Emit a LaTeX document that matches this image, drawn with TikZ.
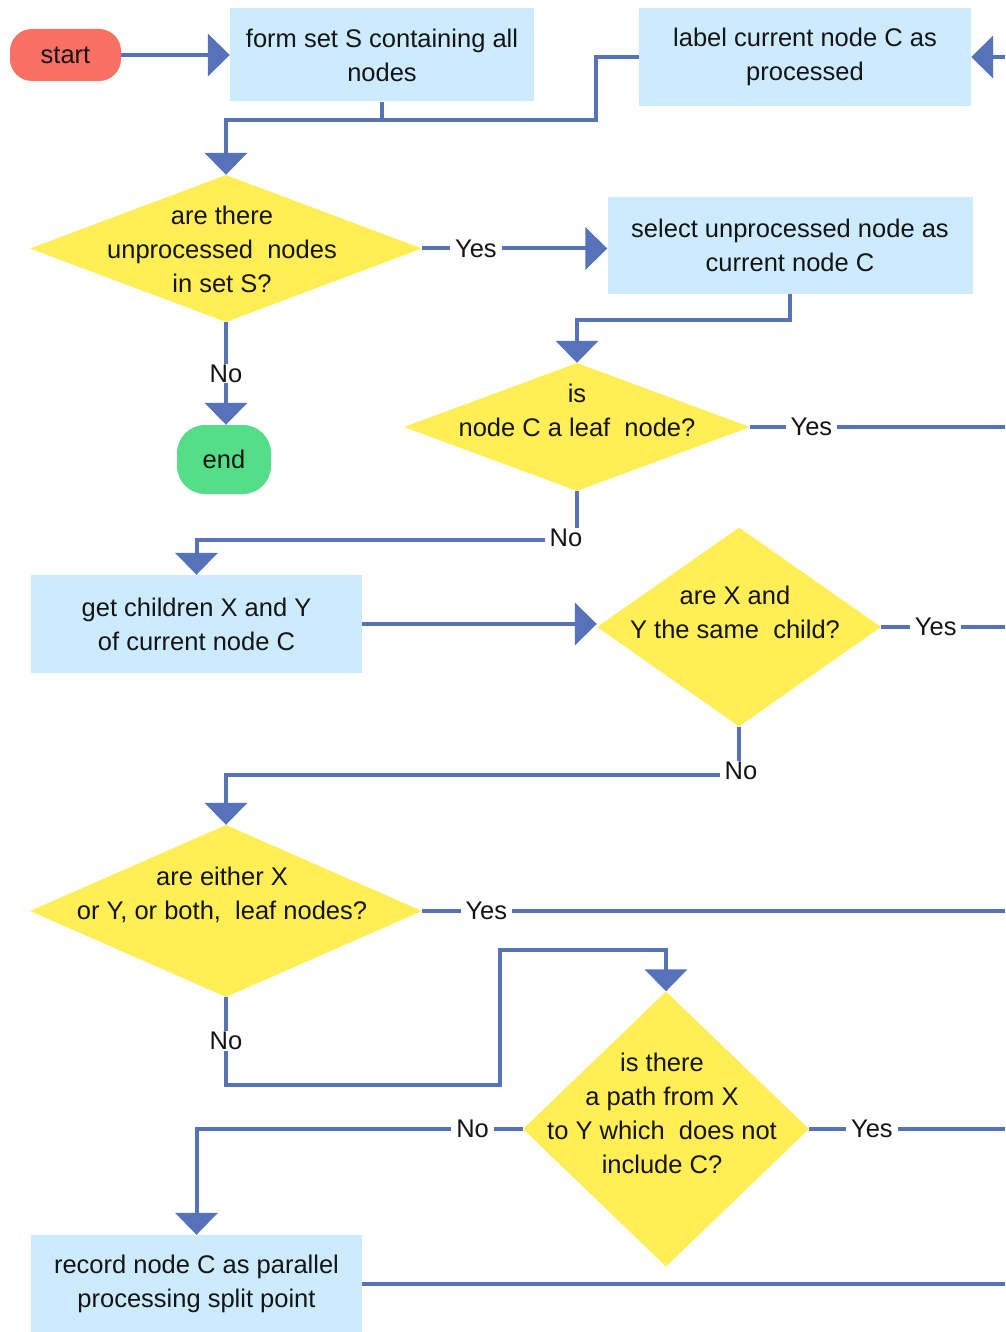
\documentclass[tikz,border=0pt]{standalone}
\usepackage{fontspec}
\setmainfont{Liberation Sans}
\usetikzlibrary{arrows.meta,shapes.geometric}
\definecolor{flowblue}{RGB}{86,115,186}
\definecolor{boxblue}{RGB}{204,235,255}
\definecolor{decyellow}{RGB}{255,238,85}
\definecolor{startred}{RGB}{250,112,100}
\definecolor{endgreen}{RGB}{85,221,136}
\begin{document}
\begin{tikzpicture}[x=1pt,y=-1pt,
  every node/.style={font=\fontsize{25.5}{34}\selectfont, text=black!92},
  box/.style={rectangle, fill=boxblue, align=center, inner sep=0pt},
  term/.style={rectangle, rounded corners=22pt, align=center, inner sep=0pt},
  dia/.style={diamond, fill=decyellow, inner sep=0pt},
  txt/.style={align=center, inner sep=0pt},
  lbl/.style={fill=white, inner xsep=5pt, inner ysep=1pt},
  line/.style={draw=flowblue, line width=4pt},
  arr/.style={line, -{Triangle[length=22pt,width=42pt]}}]
\fill[white] (0,0) rectangle (1005,1332);
\useasboundingbox (0,0) rectangle (1005,1332);

% terminals and process boxes
\node[term, fill=startred, minimum width=111pt, minimum height=52pt] (start) at (65.5,55) {start};
\node[box, minimum width=304pt, minimum height=93pt] (form) at (382,55) {form set S containing all\\nodes};
\node[box, minimum width=332pt, minimum height=98pt] (label) at (805,57) {label current node C as\\processed};
\node[box, minimum width=365pt, minimum height=97pt] (select) at (790,245.5) {select unprocessed node as\\current node C};
\node[term, fill=endgreen, minimum width=94pt, minimum height=69pt, rounded corners=28pt] (end) at (224,459.5) {end};
\node[box, minimum width=331pt, minimum height=98pt] (get) at (196.5,624) {get children X and Y\\of current node C};
\node[box, minimum width=331pt, minimum height=97pt] (record) at (196.5,1283.5) {record node C as parallel\\processing split point};

% decisions
\node[dia, minimum width=392pt, minimum height=147pt] (d1) at (226,248.5) {};
\node[txt] at (222,249.5) {are there\\unprocessed\ \ nodes\\in set S?};
\node[dia, minimum width=346pt, minimum height=128pt] (d2) at (577,427) {};
\node[txt] at (577,410.5) {is\\node C a leaf\ \ node?};
\node[dia, minimum width=284pt, minimum height=199pt] (d3) at (739,627) {};
\node[txt] at (735,612) {are X and\\Y the same\ \ child?};
\node[dia, minimum width=392pt, minimum height=172pt] (d4) at (226,911) {};
\node[txt] at (222,895) {are either X\\or Y, or both,\ \ leaf nodes?};
\node[dia, minimum width=286pt, minimum height=275pt] (d5) at (666,1129) {};
\node[txt] at (662,1113.5) {is there\\a path from X\\to Y which\ \ does not\\include C?};

% routing points
\coordinate (eR) at (1005,0);
\coordinate (inR) at (1005,57);
\coordinate (jA) at (596,120);
\coordinate (jB) at (500,950);
\coordinate (r540) at (0,540);
\coordinate (r775) at (0,775);
\coordinate (r1085) at (0,1085);

% connectors
\draw[arr] (start.east) -- (start.east -| form.west);
\draw[arr] (inR) -- (label.east);
\draw[line] (form.south) -- (form.south |- jA);
\draw[arr] (label.west) -| (jA) -| (d1.north);
\draw[arr] (d1.east) -- node[lbl,pos=0.29]{Yes} (d1.east -| select.west);
\draw[arr] (d1.south) -- node[lbl]{No} (d1.south |- end.north);
\draw[arr] (select.south) -- ++(0,26) -| (d2.north);
\draw[line] (d2.east) -- node[lbl,pos=0.24]{Yes} (d2.east -| eR);
\draw[arr] (d2.south) -- (d2.south |- r540) -| (get.north);
\node[lbl] at (566,538) {No};
\draw[arr] (get.east) -- (get.east -| d3.west);
\draw[line] (d3.east) -- node[lbl,pos=0.44]{Yes} (d3.east -| eR);
\draw[arr] (d3.south) -- (d3.south |- r775) -| (d4.north);
\node[lbl] at (741,771) {No};
\draw[line] (d4.east) -- node[lbl,pos=0.11]{Yes} (d4.east -| eR);
\draw[arr] (d4.south) -- node[lbl]{No} (d4.south |- r1085) -| (jB) -| (d5.north);
\draw[line] (d5.east) -- node[lbl,pos=0.32]{Yes} (d5.east -| eR);
\draw[arr] (d5.west) -- node[lbl,pos=0.154]{No} (d5.west -| record.north) -- (record.north);
\draw[line] (record.east) -- (record.east -| eR);
\end{tikzpicture}
\end{document}
